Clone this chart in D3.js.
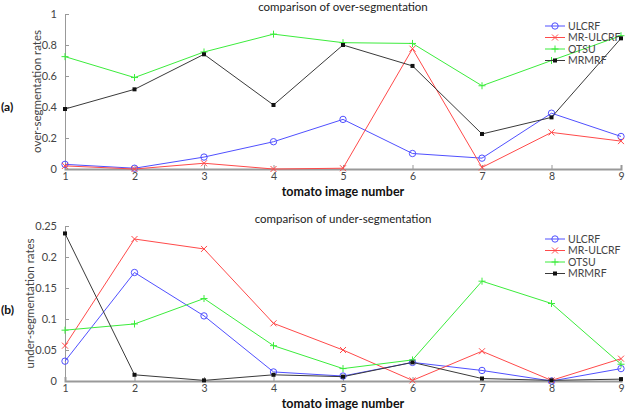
<!DOCTYPE html>
<html>
<head>
<meta charset="utf-8">
<script src="https://cdn.jsdelivr.net/npm/d3@7"></script>
<style>
  body { margin: 0; background: #fff; }
  text { font-family: Lato, "Open Sans", sans-serif; }
</style>
</head>
<body>
<div id="wrapper"></div>
<script>
// data
const images = [1, 2, 3, 4, 5, 6, 7, 8, 9]
const seriesNames = ["ULCRF", "MR-ULCRF", "OTSU", "MRMRF"]

const overULCRF   = [0.03, 0.005, 0.077, 0.176, 0.32, 0.10, 0.07, 0.36, 0.21]
const overMRULCRF = [0.02, 0.0, 0.037, 0.0, 0.005, 0.776, 0.01, 0.236, 0.18]
const overOTSU    = [0.725, 0.59, 0.755, 0.87, 0.815, 0.81, 0.537, 0.70, 0.86]
const overMRMRF   = [0.387, 0.514, 0.74, 0.413, 0.80, 0.665, 0.226, 0.333, 0.843]

const underULCRF   = [0.032, 0.175, 0.105, 0.0146, 0.008, 0.03, 0.017, 0.0, 0.02]
const underMRULCRF = [0.057, 0.229, 0.213, 0.093, 0.05, 0.001, 0.048, 0.001, 0.036]
const underOTSU    = [0.082, 0.092, 0.133, 0.057, 0.02, 0.034, 0.161, 0.125, 0.027]
const underMRMRF   = [0.238, 0.01, 0.001, 0.01, 0.007, 0.03, 0.004, 0.001, 0.003]

const overTicks = [0, 0.2, 0.4, 0.6, 0.8, 1]
const underTicks = [0, 0.05, 0.1, 0.15, 0.2, 0.25]

const colors = ["#5050ff", "#ff4a4a", "#3cec3c", "#3a3a3a"]
const markers = ["circle", "x", "plus", "star"]

const width = 625
const height = 410

const svg = d3.select('#wrapper')
  .append('svg')
    .attr('width', width)
    .attr('height', height)

const markerPath = (type, cx, cy) => {
  if (type === "x") return `M${cx-3},${cy-3}L${cx+3},${cy+3}M${cx-3},${cy+3}L${cx+3},${cy-3}`
  if (type === "plus") return `M${cx-3.5},${cy}L${cx+3.5},${cy}M${cx},${cy-3.5}L${cx},${cy+3.5}`
  return ""
}

const drawMarker = (g, type, cx, cy, color) => {
  if (type === "circle") {
    g.append('circle')
        .attr('cx', cx).attr('cy', cy).attr('r', 3.2)
        .attr('fill', 'none').attr('stroke', color).attr('stroke-width', 1)
  } else if (type === "star") {
    g.append('rect')
        .attr('x', cx - 2).attr('y', cy - 2).attr('width', 4).attr('height', 4)
        .attr('fill', '#111')
  } else {
    g.append('path')
        .attr('d', markerPath(type, cx, cy))
        .attr('stroke', color).attr('stroke-width', 1).attr('fill', 'none')
  }
}

const drawPanel = ({ top, title, yLabel, yLabelOffset, panelLabel, panelLabelY, series, ticks, yMax, legendTop }) => {
  const left = 65, right = 621, plotH = 155

  const xScale = d3.scaleLinear().domain([1, 9]).range([left, right])
  const yScale = d3.scaleLinear().domain([0, yMax]).range([top + plotH, top])

  const bounds = svg.append('g')

  // axes
  const xAxis = d3.axisBottom(xScale).tickValues(images).tickSize(-4).tickPadding(4).tickFormat(d3.format('d'))
  const xg = bounds.append('g')
      .attr('transform', `translate(0,${top + plotH})`)
      .call(xAxis)
  xg.select('.domain').attr('stroke', '#999').attr('stroke-width', 2)
  xg.selectAll('.tick line').attr('stroke', '#999')
  xg.selectAll('.tick text').attr('fill', '#444').style('font-size', '10.5px').style('font-family', 'Lato, sans-serif')

  const yAxis = d3.axisLeft(yScale).tickValues(ticks).tickSize(-4).tickPadding(8).tickFormat(d3.format('~g'))
  const yg = bounds.append('g')
      .attr('transform', `translate(${left},0)`)
      .call(yAxis)
  yg.select('.domain').attr('stroke', '#999')
  yg.selectAll('.tick line').attr('stroke', '#999')
  yg.selectAll('.tick text').attr('fill', '#444').style('font-size', '11px').style('font-family', 'Lato, sans-serif')

  // lines
  const lineGen = d3.line()
    .x((d, i) => xScale(images[i]))
    .y(d => yScale(d))

  series.forEach((values, s) => {
    bounds.append('path')
        .datum(values)
        .attr('d', lineGen)
        .attr('fill', 'none')
        .attr('stroke', colors[s])
        .attr('stroke-width', 1)
    const mg = bounds.append('g')
    values.forEach((v, i) => drawMarker(mg, markers[s], xScale(images[i]), yScale(v), colors[s]))
  })

  // peripherals
  bounds.append('text')
      .attr('x', (left + right) / 2)
      .attr('y', top - 3)
      .attr('text-anchor', 'middle')
      .style('font-size', '11.5px')
      .attr('fill', '#222')
      .text(title)

  bounds.append('text')
      .attr('x', (left + right) / 2)
      .attr('y', top + plotH + 26.5)
      .attr('text-anchor', 'middle')
      .style('font-size', '12.5px')
      .style('font-weight', 'bold')
      .attr('fill', '#111')
      .text('tomato image number')

  bounds.append('text')
      .attr('transform', `translate(${left - yLabelOffset},${top + plotH / 2}) rotate(-90)`)
      .attr('text-anchor', 'middle')
      .style('font-size', '11.5px')
      .attr('fill', '#444')
      .text(yLabel)

  bounds.append('text')
      .attr('x', 1)
      .attr('y', panelLabelY)
      .style('font-size', '12px')
      .style('font-weight', 'bold')
      .attr('fill', '#111')
      .text(panelLabel)

  // legend
  const legend = bounds.append('g')
  seriesNames.forEach((name, s) => {
    const ly = legendTop + s * 11.5
    legend.append('line')
        .attr('x1', 545).attr('x2', 565).attr('y1', ly).attr('y2', ly)
        .attr('stroke', colors[s])
    drawMarker(legend, markers[s], 555, ly, colors[s])
    legend.append('text')
        .attr('x', 568).attr('y', ly + 3.8)
        .style('font-size', '10.5px')
        .attr('fill', '#444')
        .text(name)
  })
}

drawPanel({
  top: 14,
  title: 'comparison of over-segmentation',
  yLabel: 'over-segmentation rates',
  yLabelOffset: 24,
  panelLabel: '(a)',
  panelLabelY: 111,
  series: [overULCRF, overMRULCRF, overOTSU, overMRMRF],
  ticks: overTicks,
  yMax: 1,
  legendTop: 26,
})

drawPanel({
  top: 226,
  title: 'comparison of under-segmentation',
  yLabel: 'under-segmentation rates',
  yLabelOffset: 31,
  panelLabel: '(b)',
  panelLabelY: 314,
  series: [underULCRF, underMRULCRF, underOTSU, underMRMRF],
  ticks: underTicks,
  yMax: 0.25,
  legendTop: 239,
})
</script>
</body>
</html>
